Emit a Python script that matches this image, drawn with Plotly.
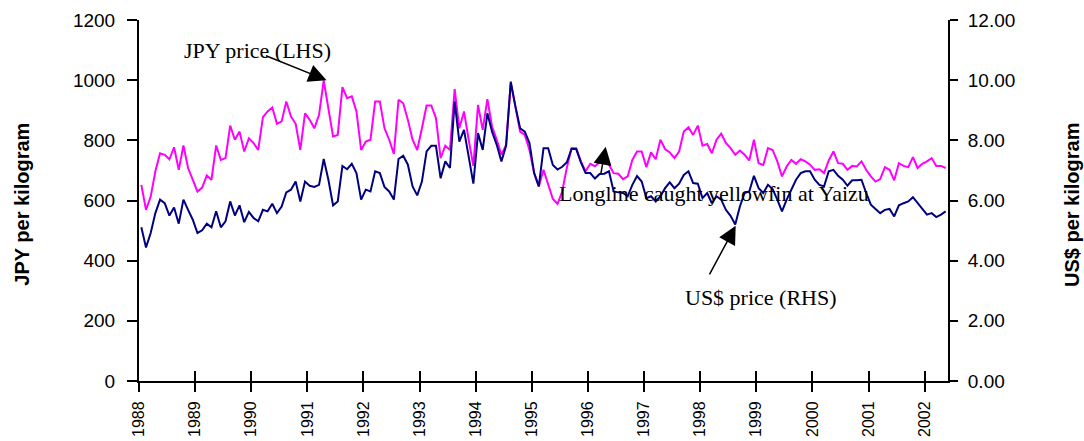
import plotly.graph_objects as go

years = [str(y) for y in range(1988, 2003)]

jpy_price = [652, 569, 613, 697, 757, 752, 737, 777, 702, 783, 708, 669,
             630, 643, 683, 669, 783, 735, 741, 849, 802, 829, 763, 807,
             791, 768, 877, 896, 909, 855, 863, 929, 879, 855, 768, 890,
             868, 840, 885, 999, 907, 813, 818, 977, 940, 946, 896, 768,
             796, 802, 929, 929, 840, 802, 755, 935, 923, 868, 802, 768,
             840, 916, 916, 874, 741, 782, 768, 970, 840, 896, 802, 715,
             918, 835, 937, 846, 802, 752, 785, 990, 912, 829, 818, 768,
             691, 647, 702, 650, 605, 589, 630, 710, 774, 774, 730, 697,
             722, 714, 727, 730, 719, 691, 689, 671, 680, 735, 763, 763,
             711, 760, 737, 802, 771, 760, 741, 763, 829, 843, 818, 849,
             782, 788, 757, 802, 822, 791, 774, 752, 766, 752, 733, 802,
             724, 718, 774, 768, 730, 680, 713, 735, 722, 737, 730, 719,
             702, 704, 691, 733, 763, 724, 722, 702, 715, 713, 730, 702,
             680, 663, 671, 711, 702, 667, 724, 715, 711, 744, 708, 722,
             730, 741, 715, 715, 708]

usd_price = [5.11, 4.44, 4.92, 5.58, 6.03, 5.91, 5.50, 5.77, 5.23, 6.03, 5.69, 5.36,
             4.92, 5.01, 5.23, 5.11, 5.64, 5.11, 5.31, 5.97, 5.50, 5.84, 5.28, 5.62,
             5.42, 5.31, 5.69, 5.64, 5.89, 5.58, 5.80, 6.27, 6.36, 6.63, 5.97, 6.63,
             6.49, 6.45, 6.52, 7.38, 6.69, 5.84, 5.97, 7.15, 7.04, 7.22, 6.91, 6.03,
             6.36, 6.30, 6.97, 6.91, 6.45, 6.30, 6.03, 7.38, 7.49, 7.19, 6.47, 6.17,
             6.63, 7.63, 7.82, 7.82, 6.74, 7.30, 7.08, 9.29, 7.96, 8.35, 7.46, 6.56,
             8.24, 7.68, 8.90, 8.29, 7.85, 7.30, 7.82, 9.95, 9.12, 8.40, 8.29, 7.91,
             6.91, 6.47, 7.74, 7.74, 7.18, 7.03, 7.12, 7.27, 7.72, 7.71, 7.27, 6.91,
             6.91, 6.73, 6.88, 6.89, 6.97, 6.30, 6.27, 6.25, 6.14, 6.52, 6.81, 6.63,
             6.08, 6.14, 5.97, 6.14, 6.41, 6.60, 6.41, 6.56, 6.85, 6.97, 6.58, 6.56,
             6.08, 6.25, 5.91, 6.14, 6.03, 5.69, 5.49, 5.20, 5.80, 6.25, 6.30, 6.82,
             6.41, 6.25, 6.52, 6.38, 6.03, 5.64, 6.03, 6.36, 6.69, 6.91, 6.97, 6.97,
             6.69, 6.52, 6.47, 6.97, 7.02, 6.82, 6.69, 6.49, 6.67, 6.67, 6.69, 6.25,
             5.86, 5.72, 5.58, 5.69, 5.72, 5.47, 5.84, 5.91, 5.97, 6.11, 5.91, 5.69,
             5.53, 5.58, 5.45, 5.53, 5.64]

months = list(range(len(jpy_price)))
year_ticks = [12 * k - 0.5 for k in range(len(years))]
xrange = [-0.5, len(months) - 0.5]

tick_font = dict(family="Liberation Sans, Arial", size=19, color="black")
xtick_font = dict(family="Liberation Sans, Arial", size=16, color="black")
ann_font = dict(family="Liberation Serif, Times New Roman", size=22, color="black")
title_font = dict(family="Liberation Sans, Arial", size=20, color="black", weight="bold")

fig = go.Figure()
fig.add_trace(go.Scatter(x=months, y=jpy_price, mode="lines",
                         line=dict(color="#FF00FF", width=2), yaxis="y", xaxis="x",
                         showlegend=False, hoverinfo="skip"))
fig.add_trace(go.Scatter(x=months, y=usd_price, mode="lines",
                         line=dict(color="#000080", width=2), yaxis="y2", xaxis="x",
                         showlegend=False, hoverinfo="skip"))
# helper trace for the inner half of the crossing x ticks
fig.add_trace(go.Scatter(x=[None], y=[None], xaxis="x2", yaxis="y",
                         showlegend=False, hoverinfo="skip"))

fig.update_layout(
    width=1084, height=441,
    margin=dict(l=139, r=136, t=20, b=60, autoexpand=False),
    paper_bgcolor="white", plot_bgcolor="white",
    showlegend=False,
    xaxis=dict(range=xrange, tickmode="array", tickvals=year_ticks, ticktext=years,
               tickangle=-90, ticks="outside", ticklen=9, tickwidth=2, tickcolor="black",
               showline=True, linewidth=2, linecolor="black", showgrid=False,
               zeroline=False, tickfont=xtick_font, ticklabelstandoff=3, automargin=False),
    xaxis2=dict(range=xrange, overlaying="x", anchor="y", side="bottom",
                tickmode="array", tickvals=year_ticks, ticks="inside", ticklen=10,
                tickwidth=2, tickcolor="black", showticklabels=False, automargin=False,
                showline=False, showgrid=False, zeroline=False),
    yaxis=dict(range=[0, 1200], dtick=200, ticks="outside", ticklen=10, tickwidth=2,
               tickcolor="black", showline=True, linewidth=2, linecolor="black",
               showgrid=False, zeroline=False, tickfont=tick_font, ticklabelstandoff=8,
               automargin=False),
    yaxis2=dict(range=[0, 12], dtick=2, tickformat=".2f", overlaying="y", side="right",
                anchor="x", ticks="outside", ticklen=8, tickwidth=2, tickcolor="black",
                showline=True, linewidth=2, linecolor="black", showgrid=False,
                zeroline=False, tickfont=tick_font, ticklabelstandoff=6, automargin=False),
)

annotations = [
    dict(text="JPY per kilogram", xref="paper", yref="paper", x=-0.1439, y=0.49,
         textangle=-90, showarrow=False, font=title_font, xanchor="center", yanchor="middle"),
    dict(text="US$ per kilogram", xref="paper", yref="paper", x=1.1532, y=0.49,
         textangle=-90, showarrow=False, font=title_font, xanchor="center", yanchor="middle"),
    dict(text="JPY price (LHS)", xref="x", yref="y", x=24.9, y=1100, showarrow=False,
         font=ann_font, xanchor="center", yanchor="middle"),
    dict(text="Longline caught yellowfin at Yaizu", xref="x", yref="y", x=122.4, y=622,
         showarrow=False, font=ann_font, xanchor="center", yanchor="middle"),
    dict(text="US$ price (RHS)", xref="x", yref="y", x=132.5, y=277, showarrow=False,
         font=ann_font, xanchor="center", yanchor="middle"),
    dict(text="", xref="x", yref="y", x=39.6, y=1000, showarrow=True, ax=-62, ay=-25,
         arrowhead=2, arrowsize=2.4, arrowwidth=1.5, arrowcolor="black"),
    dict(text="", xref="x", yref="y", x=99.3, y=779, showarrow=True, ax=-5, ay=28,
         arrowhead=2, arrowsize=2.4, arrowwidth=1.5, arrowcolor="black"),
    dict(text="", xref="x", yref="y2", x=127.1, y=5.16, showarrow=True, ax=-27, ay=50,
         arrowhead=2, arrowsize=2.4, arrowwidth=1.5, arrowcolor="black"),
]
fig.update_layout(annotations=annotations)

fig.write_html("out.html", config={"displayModeBar": False},
               post_script="document.body.style.margin='0';document.body.style.overflow='hidden';")
